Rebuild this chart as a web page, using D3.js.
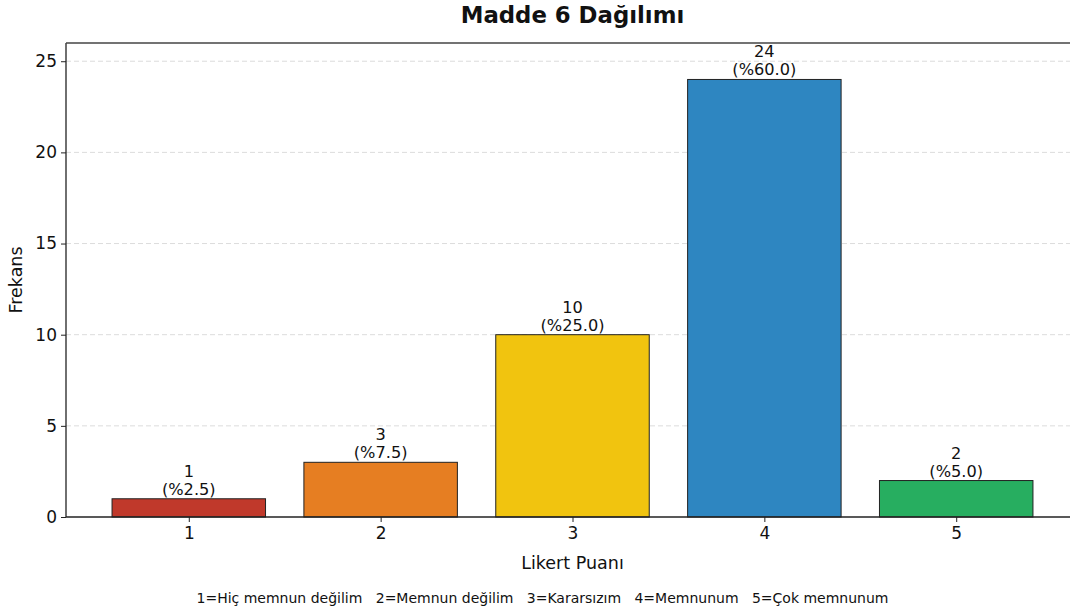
<!DOCTYPE html>
<html><head><meta charset="utf-8">
<script src="https://cdn.jsdelivr.net/npm/d3@7"></script>
<style>
body{margin:0;background:#fff;}
text{font-family:"DejaVu Sans",sans-serif;}
</style></head>
<body><svg id="c" width="1070" height="615"></svg>
<script>
const categories = [1, 2, 3, 4, 5];
const counts = [1, 3, 10, 24, 2];
const percents = [2.5, 7.5, 25.0, 60.0, 5.0];
const colors = ["#c0392b", "#e67e22", "#f1c40f", "#2e86c1", "#27ae60"];
const yTicks = [0, 5, 10, 15, 20, 25];
const legendText = "1=Hiç memnun değilim   2=Memnun değilim   3=Kararsızım   4=Memnunum   5=Çok memnunum";

const svg = d3.select("#c");
const L = 66, R = 1079, T = 43, B = 517;
const x = d3.scaleLinear().domain([0.36, 5.64]).range([L, R]);
const y = d3.scaleLinear().domain([0, 26]).range([B, T]);
const bw = x(1.8) - x(1);

// grid
svg.append("g").selectAll("line").data(yTicks.filter(d => d > 0)).join("line")
  .attr("x1", L).attr("x2", R).attr("y1", d => y(d)).attr("y2", d => y(d))
  .attr("stroke", "#dcdcdc").attr("stroke-width", 1).attr("stroke-dasharray", "5,3");

// bars
svg.append("g").selectAll("rect").data(categories).join("rect")
  .attr("x", (d) => x(d) - bw / 2).attr("width", bw)
  .attr("y", (d, i) => y(counts[i])).attr("height", (d, i) => y(0) - y(counts[i]))
  .attr("fill", (d, i) => colors[i]).attr("stroke", "#222").attr("stroke-width", 1);

// labels
const lg = svg.append("g").attr("font-size", 16.2).attr("text-anchor", "middle").attr("fill", "#111");
categories.forEach((c, i) => {
  lg.append("text").attr("x", x(c)).attr("y", y(counts[i]) - 22).text(counts[i]);
  lg.append("text").attr("x", x(c)).attr("y", y(counts[i]) - 4).text("(%" + percents[i].toFixed(1) + ")");
});

// axes
const yAxis = d3.axisLeft(y).tickValues(yTicks).tickSize(5).tickPadding(4);
const gy = svg.append("g").attr("transform", `translate(${L},0)`).call(yAxis);
gy.select(".domain").remove();
gy.selectAll("text").attr("font-size", 17).attr("fill", "#111").attr("font-family", "DejaVu Sans");
gy.selectAll("line").attr("stroke", "#222");

const xAxis = d3.axisBottom(x).tickValues(categories).tickFormat(d3.format("d")).tickSize(5).tickPadding(5);
const gx = svg.append("g").attr("transform", `translate(0,${B})`).call(xAxis);
gx.select(".domain").remove();
gx.selectAll("text").attr("font-size", 17).attr("fill", "#111").attr("font-family", "DejaVu Sans");
gx.selectAll("line").attr("stroke", "#222");

// spines
svg.append("line").attr("x1", L).attr("x2", L).attr("y1", T).attr("y2", B).attr("stroke", "#222").attr("stroke-width", 1.3);
svg.append("line").attr("x1", L).attr("x2", R).attr("y1", B).attr("y2", B).attr("stroke", "#222").attr("stroke-width", 1.3);
svg.append("line").attr("x1", L).attr("x2", R).attr("y1", T).attr("y2", T).attr("stroke", "#444").attr("stroke-width", 1.6);

// titles
svg.append("text").attr("x", x(3)).attr("y", 23).attr("text-anchor", "middle")
  .attr("font-size", 22.8).attr("font-weight", "bold").attr("fill", "#111").text("Madde 6 Dağılımı");
svg.append("text").attr("x", x(3)).attr("y", 569).attr("text-anchor", "middle")
  .attr("font-size", 17.5).attr("fill", "#111").text("Likert Puanı");
svg.append("text").attr("transform", `translate(22,${(T + B) / 2}) rotate(-90)`).attr("text-anchor", "middle")
  .attr("font-size", 17.5).attr("fill", "#111").text("Frekans");
svg.append("text").attr("x", x(3) - 30).attr("y", 603).attr("text-anchor", "middle")
  .attr("font-size", 14).attr("fill", "#111").attr("xml:space", "preserve").style("white-space", "pre").text(legendText);
</script></body></html>
